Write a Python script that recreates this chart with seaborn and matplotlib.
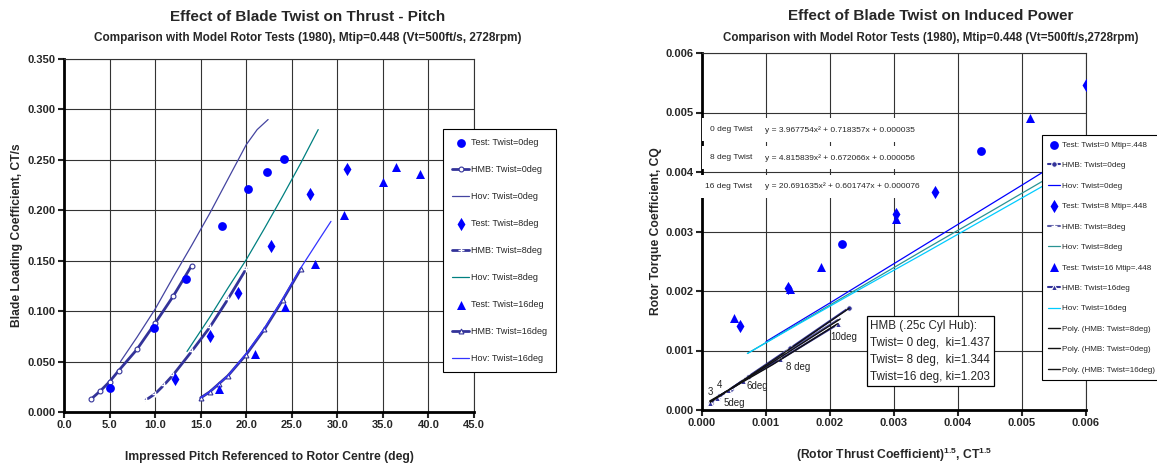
import matplotlib
matplotlib.use('Agg')
import matplotlib.pyplot as plt
import seaborn as sns

# ---- left chart : blade loading vs impressed pitch ----
test0_x = [5.0, 9.9, 13.4, 17.3, 20.2, 22.3, 24.2]
test0_y = [0.024, 0.083, 0.132, 0.184, 0.221, 0.238, 0.251]
hmb0_x = [3, 4, 5, 6, 8, 10, 12, 14]
hmb0_y = [0.013, 0.021, 0.030, 0.041, 0.062, 0.088, 0.115, 0.145]
hov0_x = [6.2, 8, 10, 12, 14, 16, 18, 20, 21.2, 22.4]
hov0_y = [0.050, 0.074, 0.102, 0.134, 0.165, 0.197, 0.231, 0.265, 0.280, 0.290]
test8_x = [12.2, 16.0, 19.1, 22.7, 27.0, 31.1]
test8_y = [0.033, 0.075, 0.118, 0.165, 0.216, 0.241]
hmb8_x = [9, 10, 11, 12, 14, 16, 18, 20]
hmb8_y = [0.012, 0.018, 0.027, 0.037, 0.060, 0.084, 0.112, 0.142]
hov8_x = [13.5, 16, 18, 20, 22, 24, 26, 27.9]
hov8_y = [0.060, 0.094, 0.123, 0.151, 0.182, 0.214, 0.247, 0.280]
test16_x = [17.0, 21.0, 24.3, 27.6, 30.7, 35.0, 36.4, 39.1]
test16_y = [0.023, 0.058, 0.104, 0.147, 0.195, 0.228, 0.243, 0.236]
hmb16_x = [15, 16, 17, 18, 20, 22, 24, 26]
hmb16_y = [0.014, 0.020, 0.028, 0.036, 0.057, 0.082, 0.111, 0.142]
hov16_x = [15, 16, 18, 20, 22, 24, 26, 28, 29.3]
hov16_y = [0.014, 0.020, 0.036, 0.058, 0.083, 0.112, 0.143, 0.171, 0.189]

# ---- right chart : CQ vs CT^1.5 ----
qtest0_x = [0.00218, 0.00436]
qtest0_y = [0.00279, 0.00435]
qtest8_x = [0.00060, 0.00135, 0.00303, 0.00364, 0.00600]
qtest8_y = [0.00141, 0.00205, 0.00330, 0.00366, 0.00547]
qtest16_x = [0.00050, 0.00137, 0.00186, 0.00303, 0.00513]
qtest16_y = [0.00154, 0.00203, 0.00241, 0.00321, 0.00491]
qhmb0_x = [0.000135, 0.00027, 0.00046, 0.00072, 0.00138, 0.00230]
qhmb0_y = [0.00012, 0.00023, 0.00036, 0.00056, 0.00104, 0.00172]
qhmb8_x = [0.00013, 0.00026, 0.00044, 0.00068, 0.00131, 0.00216]
qhmb8_y = [0.00012, 0.00022, 0.00035, 0.00052, 0.00097, 0.00154]
qhmb16_x = [0.00012, 0.00024, 0.00041, 0.00064, 0.00122, 0.00212]
qhmb16_y = [0.00012, 0.00021, 0.00033, 0.00049, 0.00085, 0.00144]
qhov0_x = [0.0010, 0.0020, 0.0030, 0.0040, 0.0050, 0.0056]
qhov0_y = [0.00115, 0.00180, 0.00246, 0.00312, 0.00378, 0.00418]
qhov8_x = [0.00071, 0.0015, 0.0025, 0.0035, 0.0045, 0.0056]
qhov8_y = [0.00095, 0.00145, 0.00208, 0.00271, 0.00333, 0.00402]
qhov16_x = [0.00071, 0.0015, 0.0025, 0.0035, 0.0045, 0.0056]
qhov16_y = [0.00095, 0.00144, 0.00205, 0.00265, 0.00326, 0.00393]
poly0_x = [0.00013, 0.0012, 0.0023]
poly0_y = [0.00013, 0.00090, 0.00171]
poly8_x = [0.00013, 0.0011, 0.00216]
poly8_y = [0.00014, 0.00080, 0.00153]
poly16_x = [0.00012, 0.0011, 0.00212]
poly16_y = [0.00015, 0.00076, 0.00145]

deg_labels = ['3', '4', '5deg', '6deg', '8 deg', '10deg']
deg_x = [0.000136, 0.000281, 0.000509, 0.000866, 0.00150, 0.00222]
deg_y = [0.000308, 0.000420, 0.000123, 0.000408, 0.000728, 0.00122]

eq_names = ['0 deg Twist', '8 deg Twist', '16 deg Twist']
eq_texts = ['y = 3.967754x² + 0.718357x + 0.000035',
            'y = 4.815839x² + 0.672066x + 0.000056',
            'y = 20.691635x² + 0.601747x + 0.000076']
eq_y = [0.00471, 0.00424, 0.00376]

sns.set_style('white')
plt.rcParams['font.family'] = ['Liberation Sans', 'DejaVu Sans']
plt.rcParams['mathtext.default'] = 'regular'

BLUE = '#0000ff'
HMB = '#333399'

fig = plt.figure(figsize=(11.57, 4.68), dpi=100)
W, H = 1157, 468
ax1 = fig.add_axes([64 / W, 56 / H, 410 / W, 353 / H])
ax2 = fig.add_axes([702 / W, 58 / H, 384 / W, 357 / H])

# left chart
sns.scatterplot(x=test0_x, y=test0_y, ax=ax1, marker='o', s=40, color=BLUE, linewidth=0, label='Test: Twist=0deg', zorder=5)
sns.lineplot(x=hmb0_x, y=hmb0_y, ax=ax1, color=HMB, lw=2, marker='o', ms=3.5, mfc='white', mec=HMB, mew=0.8, label='HMB: Twist=0deg')
sns.lineplot(x=hov0_x, y=hov0_y, ax=ax1, color='#4444a0', lw=0.9, label='Hov: Twist=0deg')
sns.scatterplot(x=test8_x, y=test8_y, ax=ax1, marker='d', s=45, color=BLUE, linewidth=0, label='Test: Twist=8deg', zorder=5)
sns.lineplot(x=hmb8_x, y=hmb8_y, ax=ax1, color=HMB, lw=2, marker='+', ms=4, mew=1, label='HMB: Twist=8deg')
sns.lineplot(x=hov8_x, y=hov8_y, ax=ax1, color='#008080', lw=0.9, label='Hov: Twist=8deg')
sns.scatterplot(x=test16_x, y=test16_y, ax=ax1, marker='^', s=42, color=BLUE, linewidth=0, label='Test: Twist=16deg', zorder=5)
sns.lineplot(x=hmb16_x, y=hmb16_y, ax=ax1, color=HMB, lw=2, marker='^', ms=3.5, mfc='white', mec=HMB, mew=0.8, label='HMB: Twist=16deg')
sns.lineplot(x=hov16_x, y=hov16_y, ax=ax1, color='#3333ff', lw=0.9, label='Hov: Twist=16deg')

ax1.set_xlim(0, 45)
ax1.set_ylim(0, 0.35)
ax1.set_xticks([i * 5 for i in range(10)])
ax1.set_yticks([i * 0.05 for i in range(8)])
ax1.xaxis.set_major_formatter(matplotlib.ticker.FormatStrFormatter('%.1f'))
ax1.yaxis.set_major_formatter(matplotlib.ticker.FormatStrFormatter('%.3f'))
ax1.set_xlabel('Impressed Pitch Referenced to Rotor Centre (deg)', fontsize=8.7, fontweight='bold')
ax1.set_ylabel('Blade Loading Coefficient, CT/s', fontsize=8.7, fontweight='bold')
ax1.xaxis.set_label_coords(0.5, -0.11)
ax1.yaxis.set_label_coords(-0.1, 0.5)
leg1 = ax1.legend(loc='upper left', bbox_to_anchor=(443 / W, 1 - 129 / H), bbox_transform=fig.transFigure,
                  borderaxespad=0, fontsize=6.5, labelspacing=2.0, handlelength=1.9, handletextpad=0.2,
                  borderpad=1.0, frameon=True, fancybox=False, edgecolor='black', framealpha=1)
leg1.get_frame().set_linewidth(0.8)

# right chart
sns.scatterplot(x=qtest0_x, y=qtest0_y, ax=ax2, marker='o', s=40, color=BLUE, linewidth=0, label='Test: Twist=0 Mtip=.448', zorder=5)
sns.lineplot(x=qhmb0_x, y=qhmb0_y, ax=ax2, color=HMB, lw=1.5, marker='o', ms=4, label='HMB: Twist=0deg')
sns.lineplot(x=qhov0_x, y=qhov0_y, ax=ax2, color='#0000ff', lw=0.9, label='Hov: Twist=0deg')
sns.scatterplot(x=qtest8_x, y=qtest8_y, ax=ax2, marker='d', s=45, color=BLUE, linewidth=0, label='Test: Twist=8 Mtip=.448', zorder=5)
sns.lineplot(x=qhmb8_x, y=qhmb8_y, ax=ax2, color='#5a5aa6', lw=1.5, marker='+', ms=4, mew=1, label='HMB: Twist=8deg')
sns.lineplot(x=qhov8_x, y=qhov8_y, ax=ax2, color='#2a9393', lw=0.9, label='Hov: Twist=8deg')
sns.scatterplot(x=qtest16_x, y=qtest16_y, ax=ax2, marker='^', s=42, color=BLUE, linewidth=0, label='Test: Twist=16 Mtip=.448', zorder=5)
sns.lineplot(x=qhmb16_x, y=qhmb16_y, ax=ax2, color=HMB, lw=1.5, marker='^', ms=4, label='HMB: Twist=16deg')
sns.lineplot(x=qhov16_x, y=qhov16_y, ax=ax2, color='#00ccff', lw=0.9, label='Hov: Twist=16deg')
sns.lineplot(x=poly8_x, y=poly8_y, ax=ax2, color='#111111', lw=1, label='Poly. (HMB: Twist=8deg)')
sns.lineplot(x=poly0_x, y=poly0_y, ax=ax2, color='#111111', lw=1, label='Poly. (HMB: Twist=0deg)')
sns.lineplot(x=poly16_x, y=poly16_y, ax=ax2, color='#111111', lw=1, label='Poly. (HMB: Twist=16deg)')

ax2.set_xlim(0, 0.006)
ax2.set_ylim(0, 0.006)
ax2.set_xticks([i * 0.001 for i in range(7)])
ax2.set_yticks([i * 0.001 for i in range(7)])
ax2.xaxis.set_major_formatter(matplotlib.ticker.FormatStrFormatter('%.3f'))
ax2.yaxis.set_major_formatter(matplotlib.ticker.FormatStrFormatter('%.3f'))
ax2.set_xlabel('(Rotor Thrust Coefficient)$^{1.5}$, CT$^{1.5}$', fontsize=8.7, fontweight='bold')
ax2.set_ylabel('Rotor Torque Coefficient, CQ', fontsize=8.7, fontweight='bold')
ax2.xaxis.set_label_coords(0.5, -0.1)
ax2.yaxis.set_label_coords(-0.105, 0.5)
leg2 = ax2.legend(loc='upper left', bbox_to_anchor=(1042 / W, 1 - 135 / H), bbox_transform=fig.transFigure,
                  borderaxespad=0, fontsize=5.9, labelspacing=1.55, handlelength=1.5, handletextpad=0.2,
                  borderpad=0.75, frameon=True, fancybox=False, edgecolor='black', framealpha=1)
leg2.get_frame().set_linewidth(0.8)

for lab, x, y in zip(deg_labels, deg_x, deg_y):
    ax2.text(x, y, lab, fontsize=7, ha='center', va='center', color='#222222', zorder=6)

for name, eq, y in zip(eq_names, eq_texts, eq_y):
    ax2.text(0.00079, y, name, fontsize=6, ha='right', va='center', zorder=4,
             bbox=dict(boxstyle='square,pad=0.95', fc='white', ec='none'))
    ax2.text(0.00099, y, eq, fontsize=6, ha='left', va='center', zorder=4,
             bbox=dict(boxstyle='square,pad=0.95', fc='white', ec='none'))

ax2.text(0.00263, 0.00099, 'HMB (.25c Cyl Hub):\nTwist= 0 deg,  ki=1.437\nTwist= 8 deg,  ki=1.344\nTwist=16 deg, ki=1.203',
         fontsize=8.4, ha='left', va='center', linespacing=1.55, zorder=6,
         bbox=dict(boxstyle='square,pad=0.3', fc='white', ec='black', lw=0.9))

for ax in (ax1, ax2):
    ax.grid(True, color='#333333', lw=0.8)
    ax.set_axisbelow(True)
    for s in ('top', 'right'):
        ax.spines[s].set_color('#333333')
        ax.spines[s].set_linewidth(0.8)
    for s in ('left', 'bottom'):
        ax.spines[s].set_color('black')
        ax.spines[s].set_linewidth(2)
    ax.tick_params(axis='both', direction='out', length=4, width=1.5, pad=2, labelsize=8, left=True, bottom=True)
    for t in ax.get_xticklabels() + ax.get_yticklabels():
        t.set_fontweight('bold')

fig.text(308 / W, 1 - 17 / H, 'Effect of Blade Twist on Thrust - Pitch', fontsize=11, fontweight='bold', ha='center', va='center')
fig.text(308 / W, 1 - 38 / H, 'Comparison with Model Rotor Tests (1980), Mtip=0.448 (Vt=500ft/s, 2728rpm)', fontsize=8.5, fontweight='bold', ha='center', va='center')
fig.text(931 / W, 1 - 16 / H, 'Effect of Blade Twist on Induced Power', fontsize=11, fontweight='bold', ha='center', va='center')
fig.text(931 / W, 1 - 38 / H, 'Comparison with Model Rotor Tests (1980), Mtip=0.448 (Vt=500ft/s,2728rpm)', fontsize=8.3, fontweight='bold', ha='center', va='center')

fig.savefig('out.png', dpi=100, facecolor='white')
